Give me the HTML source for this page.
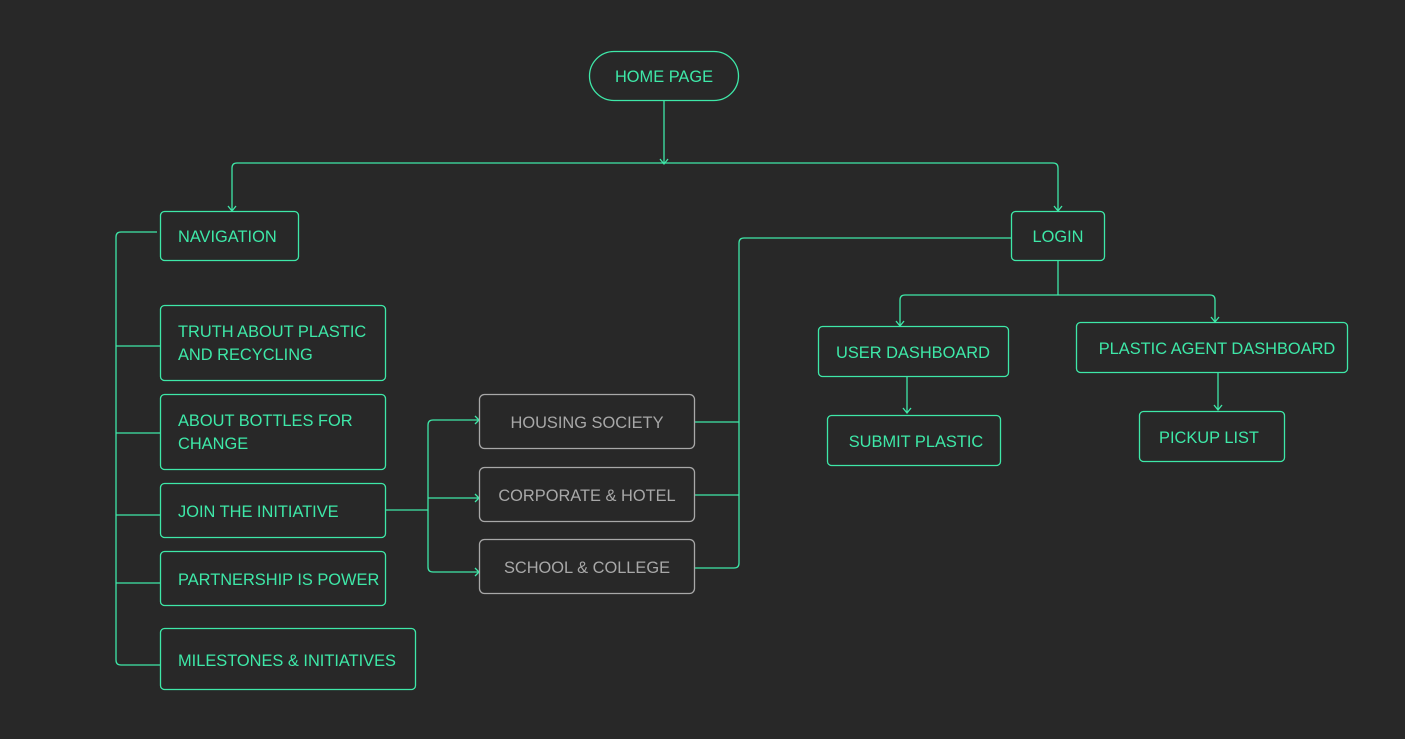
<!DOCTYPE html>
<html><head><style>
html,body{margin:0;padding:0;background:#282828;}
svg{display:block}
text{font-family:"Liberation Sans",sans-serif;font-size:16.4px;}
</style></head><body>
<svg width="1405" height="739" viewBox="0 0 1405 739" xmlns="http://www.w3.org/2000/svg">
<rect width="1405" height="739" fill="#282828"/>
<g fill="none" stroke="#3ee8a8" stroke-width="1.3">
<path d="M664 100 V163"/>
<path d="M232 210 V168 Q232 163 237 163 H1053 Q1058 163 1058 168 V210"/>
<path d="M660 159 L664 164 L668 159 M228 206 L232 211 L236 206 M1054 206 L1058 211 L1062 206"/>
<path d="M157 232 H121 Q116 232 116 237 V660 Q116 665 121 665 H160"/>
<path d="M116 346 H160 M116 433 H160 M116 515 H160 M116 583 H160"/>
<path d="M385 510 H428"/>
<path d="M479 420 H433 Q428 420 428 425 V567 Q428 572 433 572 H479 M428 498 H479"/>
<path d="M475 416 L479 420 L475 424 M475 494 L479 498 L475 502 M475 568 L479 572 L475 576"/>
<path d="M694 422 H739 M694 495 H739 M694 568 H734 Q739 568 739 563 V243 Q739 238 744 238 H1011"/>
<path d="M1058 260 V295"/>
<path d="M900 326 V300 Q900 295 905 295 H1210 Q1215 295 1215 300 V322"/>
<path d="M896 321 L900 326 L904 321 M1211 317 L1215 322 L1219 317"/>
<path d="M907 376 V413 M903 408 L907 413 L911 408"/>
<path d="M1218 372 V410 M1214 405 L1218 410 L1222 405"/>
<rect x="589.5" y="51.5" width="149" height="49" rx="24.5"/>
<rect x="160.5" y="211.5" width="138" height="49" rx="4"/>
<rect x="160.5" y="305.5" width="225" height="75" rx="4"/>
<rect x="160.5" y="394.5" width="225" height="75" rx="4"/>
<rect x="160.5" y="483.5" width="225" height="54" rx="4"/>
<rect x="160.5" y="551.5" width="225" height="54" rx="4"/>
<rect x="160.5" y="628.5" width="255" height="61" rx="4"/>
<rect x="1011.5" y="211.5" width="93" height="49" rx="4"/>
<rect x="818.5" y="326.5" width="190" height="50" rx="4"/>
<rect x="1076.5" y="322.5" width="271" height="50" rx="4"/>
<rect x="827.5" y="415.5" width="173" height="50" rx="4"/>
<rect x="1139.5" y="411.5" width="145" height="50" rx="4"/>
</g>
<g fill="none" stroke="#a8a8a8" stroke-width="1.3">
<rect x="479.5" y="394.5" width="215" height="54" rx="5"/>
<rect x="479.5" y="467.5" width="215" height="54" rx="5"/>
<rect x="479.5" y="539.5" width="215" height="54" rx="5"/>
</g>
<g fill="#3ee8a8">
<text x="664" y="82" text-anchor="middle">HOME PAGE</text>
<text x="178" y="242">NAVIGATION</text>
<text x="178" y="337">TRUTH ABOUT PLASTIC</text>
<text x="178" y="360">AND RECYCLING</text>
<text x="178" y="426">ABOUT BOTTLES FOR</text>
<text x="178" y="449">CHANGE</text>
<text x="178" y="517">JOIN THE INITIATIVE</text>
<text x="178" y="585">PARTNERSHIP IS POWER</text>
<text x="178" y="666">MILESTONES &amp; INITIATIVES</text>
<text x="1058" y="242" text-anchor="middle">LOGIN</text>
<text x="913" y="358" text-anchor="middle">USER DASHBOARD</text>
<text x="1217" y="354" text-anchor="middle">PLASTIC AGENT DASHBOARD</text>
<text x="916" y="447" text-anchor="middle">SUBMIT PLASTIC</text>
<text x="1209" y="443" text-anchor="middle">PICKUP LIST</text>
</g>
<g fill="#a8a8a8">
<text x="587" y="428" text-anchor="middle">HOUSING SOCIETY</text>
<text x="587" y="501" text-anchor="middle">CORPORATE &amp; HOTEL</text>
<text x="587" y="573" text-anchor="middle">SCHOOL &amp; COLLEGE</text>
</g>
</svg>
</body></html>
